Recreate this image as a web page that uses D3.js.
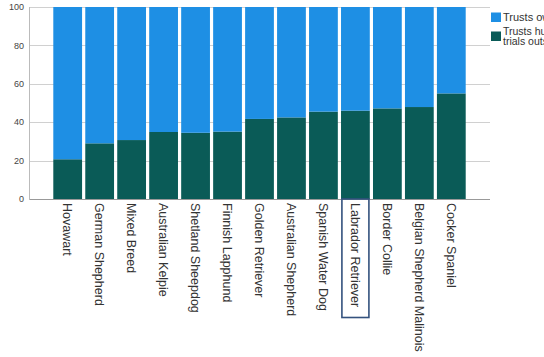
<!DOCTYPE html>
<html>
<head>
<meta charset="utf-8">
<script src="https://cdn.jsdelivr.net/npm/d3@7"></script>
<style>
  html, body { margin: 0; padding: 0; background: #fff; overflow: hidden; }
  svg { display: block; }
  text { font-family: "Liberation Sans", Arial, sans-serif; }
</style>
</head>
<body>
<svg id="chart" width="544" height="357"></svg>
<script>
const categories = ["Hovawart", "German Shepherd", "Mixed Breed", "Australian Kelpie", "Shetland Sheepdog",
  "Finnish Lapphund", "Golden Retriever", "Australian Shepherd", "Spanish Water Dog", "Labrador Retriever",
  "Border Collie", "Belgian Shepherd Malinois", "Cocker Spaniel"];
const trustsHuman = [20.7, 29.0, 30.7, 34.9, 34.5, 35.1, 41.7, 42.5, 45.5, 46.0, 47.2, 47.9, 55.0];
const trustsOwner = trustsHuman.map(v => 100 - v);
const seriesNames = ["Trusts owner", "Trusts human in", "trials outside home"];
const yTicks = [0, 20, 40, 60, 80, 100];
const highlighted = "Labrador Retriever";

const colors = { owner: "#1e8fe4", human: "#0a5b57" };

const svg = d3.select("#chart");

const x = d3.scaleBand().domain(categories).range([51.7, 467.3]).paddingInner(0.1).paddingOuter(0.05);
const y = d3.scaleLinear().domain([0, 100]).range([199, 7]);

const plotLeft = 29.5, plotRight = 490;

// gridlines
svg.append("g").selectAll("line").data(yTicks.filter(d => d > 0)).join("line")
  .attr("x1", plotLeft).attr("x2", plotRight)
  .attr("y1", d => Math.round(y(d)) + 0.5).attr("y2", d => Math.round(y(d)) + 0.5)
  .attr("stroke", "#d0d0d0").attr("stroke-width", 1);

// y tick labels
svg.append("g").selectAll("text").data(yTicks).join("text")
  .attr("x", 24).attr("y", d => y(d) + 3.2)
  .attr("text-anchor", "end").attr("font-size", 9).attr("fill", "#444")
  .text(d => d);

// stacked bars
const data = categories.map((c, i) => ({ cat: c, human: trustsHuman[i], owner: trustsOwner[i] }));
const stack = d3.stack().keys(["human", "owner"])(data);

svg.append("g").selectAll("g").data(stack).join("g")
  .attr("fill", d => colors[d.key])
  .selectAll("rect").data(d => d).join("rect")
  .attr("x", d => x(d.data.cat))
  .attr("width", x.bandwidth())
  .attr("y", d => y(d[1]))
  .attr("height", d => y(d[0]) - y(d[1]));

// axes lines
svg.append("line").attr("x1", plotLeft).attr("x2", plotLeft).attr("y1", 7).attr("y2", 199.5)
  .attr("stroke", "#bbb").attr("stroke-width", 1);
svg.append("line").attr("x1", plotLeft).attr("x2", plotRight).attr("y1", 199.5).attr("y2", 199.5)
  .attr("stroke", "#999").attr("stroke-width", 1);

// category labels, rotated to read top-to-bottom
svg.append("g").selectAll("text").data(categories).join("text")
  .attr("transform", d => `translate(${x(d) + x.bandwidth() / 2 - 4.5},203) rotate(90)`)
  .attr("x", 0).attr("y", 0)
  .attr("font-size", 12.5).attr("fill", "#333")
  .text(d => d);

// highlight box
const hx = x(highlighted) + x.bandwidth() / 2;
svg.append("rect")
  .attr("x", hx - 13.5).attr("y", 199)
  .attr("width", 27).attr("height", 118.5)
  .attr("fill", "none").attr("stroke", "#34527e").attr("stroke-width", 1.6);

// legend
const lg = svg.append("g");
lg.append("rect").attr("x", 491).attr("y", 12.5).attr("width", 10).attr("height", 9.5).attr("fill", colors.owner);
lg.append("text").attr("x", 503).attr("y", 21).attr("font-size", 11).attr("fill", "#333").text(seriesNames[0]);
lg.append("rect").attr("x", 491).attr("y", 31.5).attr("width", 10).attr("height", 9.5).attr("fill", colors.human);
lg.append("text").attr("x", 503).attr("y", 34.5).attr("font-size", 10.5).attr("fill", "#333").text(seriesNames[1]);
lg.append("text").attr("x", 503).attr("y", 44.5).attr("font-size", 10.5).attr("fill", "#333").text(seriesNames[2]);
</script>
</body>
</html>
